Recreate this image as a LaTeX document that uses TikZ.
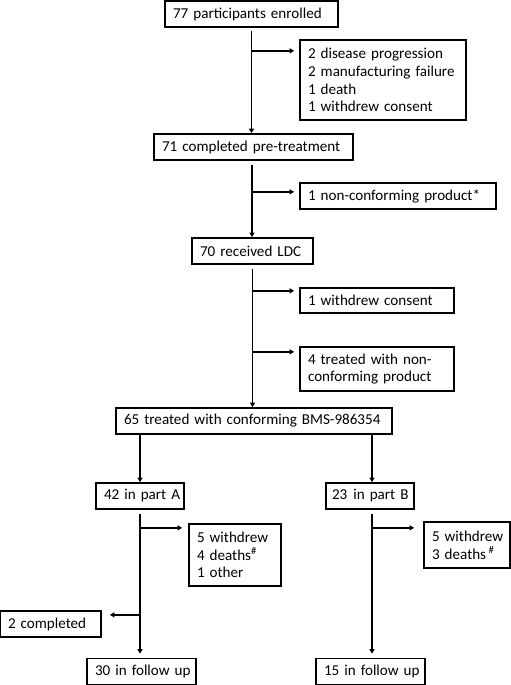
\documentclass[tikz,border=0pt]{standalone}
\usepackage{fontspec}
\setmainfont{Carlito}
\usetikzlibrary{arrows.meta,calc}
\begin{document}
\begin{tikzpicture}[x=1bp,y=-1bp,
  box/.style={draw, line width=1.7bp, inner xsep=8bp, inner ysep=0pt, align=left,
    font=\fontsize{15.1bp}{17.8bp}\selectfont, anchor=center},
  arr/.style={line width=1.7bp, -{Triangle[width=5bp,length=4.5bp]}}]
\useasboundingbox (0,0) rectangle (511,685);
\node[box, text width=157bp, minimum height=26bp] (n77) at (251.5,14) {\mbox{77 participants enrolled}};
\node[box, text width=150bp, minimum height=80bp] (exc1) at (383,80) {\mbox{2 disease progression}\\\mbox{2 manufacturing failure}\\\mbox{1 death}\\\mbox{1 withdrew consent}};
\node[box, text width=183bp, minimum height=26bp] (n71) at (253.5,147) {\mbox{71 completed pre-treatment}};
\node[box, text width=180bp, minimum height=26bp] (exc2) at (398,196) {\mbox{1 non-conforming product*}};
\node[box, text width=105bp, minimum height=26bp] (n70) at (252.5,251) {\mbox{70 received LDC}};
\node[box, text width=138bp, minimum height=25bp] (exc3) at (377,300.5) {\mbox{1 withdrew consent}};
\node[box, text width=138bp, minimum height=44bp] (exc4) at (377,369) {\mbox{4 treated with non-}\\\mbox{conforming product}};
\node[box, text width=260bp, minimum height=26bp] (n65) at (254,421) {\mbox{65 treated with conforming BMS-986354}};
\node[box, text width=72bp, minimum height=26bp] (nA) at (140,496) {\mbox{42 in part A}};
\node[box, inner xsep=3bp, text width=82bp, minimum height=26bp] (nB) at (370,496) {\mbox{\hspace{3bp}23\hspace{0.4em}in part B}};
\node[box, text width=76bp, minimum height=62bp] (excA) at (235,555) {\mbox{5 withdrew}\\\mbox{4 deaths\textsuperscript{\#}}\\\mbox{1 other}};
\node[box, text width=70bp, minimum height=46bp] (excB) at (467,545) {\mbox{5 withdrew}\\\mbox{3 deaths\,\textsuperscript{\#}}};
\node[box, text width=85bp, minimum height=26bp] (comp) at (50.5,624) {\mbox{2 completed}};
\node[box, text width=93bp, minimum height=26bp] (fA) at (141.5,671.5) {\mbox{30 in follow up}};
\node[box, text width=93bp, minimum height=26bp] (fB) at (370.5,671.5) {\mbox{15 in follow up}};
% spine 1
\draw[arr, shorten <=3bp] (n77.south) -- (n77.south |- n71.north);
\path (n77.south) ++(0,23) coordinate (b1);
\draw[arr, shorten >=5bp] (b1) -- (b1 -| exc1.west);
% spine 2
\draw[arr, shorten <=4bp] ([xshift=-1.5bp]n71.south) -- ([xshift=-1.5bp]n71.south |- n70.north);
\path ([xshift=-1.5bp]n71.south) ++(0,31) coordinate (b2);
\draw[arr, shorten >=5bp] (b2) -- (b2 -| exc2.west);
% spine 3
\draw[arr, shorten <=4bp] (n70.south) -- (n70.south |- n65.north);
\path (n70.south) ++(0,26) coordinate (b3);
\path (n70.south) ++(0,87) coordinate (b4);
\draw[arr, shorten >=5bp] (b3) -- (b3 -| exc3.west);
\draw[arr, shorten >=5bp] (b4) -- (b4 -| exc4.west);
% split
\draw[arr] (nA.north |- n65.south) -- (nA.north);
\draw[arr] ([xshift=2bp]nB.north |- n65.south) -- ([xshift=2bp]nB.north);
% part A
\draw[arr, shorten <=4bp, shorten >=4bp] (nA.south) -- (nA.south |- fA.north);
\path (nA.south) ++(0,18) coordinate (bA1);
\path (nA.south) ++(0,105) coordinate (bA2);
\draw[arr, shorten >=6bp] (bA1) -- (bA1 -| excA.west);
\draw[arr, shorten >=8bp] (bA2) -- (bA2 -| comp.east);
% part B
\draw[arr, shorten <=4bp, shorten >=4bp] ([xshift=2bp]nB.south) -- ([xshift=2bp]nB.south |- fB.north);
\path ([xshift=2bp]nB.south) ++(0,18) coordinate (bB1);
\draw[arr, shorten >=9bp] (bB1) -- (bB1 -| excB.west);
\end{tikzpicture}
\end{document}
